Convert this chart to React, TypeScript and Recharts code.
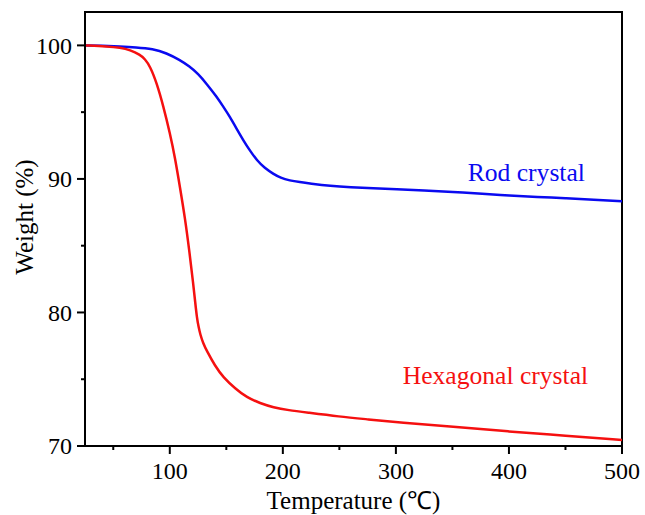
import React from 'react';
import { LineChart, Line, XAxis, YAxis, ReferenceArea, ReferenceDot } from 'recharts';

// ---- data ----
const rodTemps = [25, 40, 56, 70, 85, 97, 109, 117, 125, 133, 141.5, 147, 153.3, 159, 165, 171, 177, 184, 191.6, 198, 206, 215, 224, 242, 260, 280, 300, 325, 350, 377, 400, 425, 450, 475, 500];
const rodWeights = [100, 99.97, 99.92, 99.86, 99.74, 99.43, 98.9, 98.45, 97.88, 97.08, 96.15, 95.45, 94.63, 93.77, 92.9, 92.1, 91.4, 90.8, 90.38, 90.08, 89.88, 89.76, 89.66, 89.48, 89.38, 89.3, 89.23, 89.13, 89.03, 88.88, 88.75, 88.65, 88.55, 88.45, 88.33];

const hexTemps = [25, 45, 56, 65, 73.7, 78, 82.5, 88.4, 94.3, 100.2, 104.6, 109, 113.5, 117.3, 120.8, 122.5, 124, 125.5, 127, 129.5, 132.6, 140, 147.3, 158, 168, 180, 191.6, 205, 221, 250, 275, 304, 350, 400, 450, 500];
const hexWeights = [100, 99.93, 99.83, 99.65, 99.3, 98.98, 98.45, 97.2, 95.45, 93.4, 91.6, 89.38, 87.05, 84.6, 82.1, 80.75, 79.6, 78.9, 78.35, 77.7, 77.14, 76.0, 75.14, 74.3, 73.64, 73.2, 72.89, 72.68, 72.51, 72.2, 72.0, 71.76, 71.45, 71.08, 70.78, 70.45];

const seriesNames = ['Rod crystal', 'Hexagonal crystal'];
const xMajorTicks = [100, 200, 300, 400, 500];
const xMinorTicks = [50, 150, 250, 350, 450];
const yMajorTicks = [70, 80, 90, 100];
const yMinorTicks = [75, 85, 95];
const xDomain = [25, 500];
const yDomain = [70, 102.5];
const xTitle = 'Temperature (℃)';
const yTitle = 'Weight (%)';

// annotation anchors (data units): left edge / baseline of text
const rodLabelAt = { x: 363.5, y: 89.83 };
const hexLabelAt = { x: 306, y: 74.64 };

const rodData = rodTemps.map((t, i) => ({ T: t, W: rodWeights[i] }));
const hexData = hexTemps.map((t, i) => ({ T: t, W: hexWeights[i] }));

const FONT = '"Liberation Serif", "Times New Roman", Times, serif';
const BLUE = '#0a0af0';
const RED = '#f51010';

const XTick = (props: any) => {
  const { x, y, payload } = props;
  const major = xMajorTicks.includes(payload.value);
  return (
    <g>
      <line x1={x} y1={y} x2={x} y2={y + (major ? 8 : 4)} stroke="#000" strokeWidth={2} />
      {major && (
        <text x={x} y={y + 33} textAnchor="middle" fontSize={24} fontFamily={FONT} fill="#000">
          {payload.value}
        </text>
      )}
    </g>
  );
};

const YTick = (props: any) => {
  const { x, y, payload } = props;
  const major = yMajorTicks.includes(payload.value);
  return (
    <g>
      <line x1={x - (major ? 8 : 4)} y1={y} x2={x} y2={y} stroke="#000" strokeWidth={2} />
      {major && (
        <text x={x - 13} y={y} dy="0.34em" textAnchor="end" fontSize={24} fontFamily={FONT} fill="#000">
          {payload.value}
        </text>
      )}
    </g>
  );
};

const XTitle = (props: any) => {
  const vb = props.viewBox || { x: 85, y: 446, width: 537, height: 69 };
  const cx = vb.x + vb.width / 2;
  return (
    <text x={cx} y={vb.y + 63} textAnchor="middle" fontSize={25} fontFamily={FONT} fill="#000">
      {xTitle}
    </text>
  );
};

const YTitle = (props: any) => {
  const vb = props.viewBox || { x: 0, y: 12, width: 85, height: 434 };
  const cx = vb.x + 33;
  const cy = vb.y + vb.height / 2 - 12;
  return (
    <text x={cx} y={cy} transform={`rotate(-90, ${cx}, ${cy})`} textAnchor="middle" fontSize={25} fontFamily={FONT} fill="#000">
      {yTitle}
    </text>
  );
};

const makeAnno = (text: string, color: string) => (props: any) => (
  <text x={props.cx} y={props.cy} textAnchor="start" fontSize={25.6} fontFamily={FONT} fill={color}>
    {text}
  </text>
);

export default function App() {
  return (
    <div style={{ position: 'absolute', left: 0, top: 0, width: 645, height: 515, background: '#fff' }}>
      <LineChart width={645} height={515} margin={{ top: 12, right: 23, bottom: 0, left: 0 }}>
        <XAxis
          type="number"
          dataKey="T"
          domain={xDomain}
          allowDataOverflow
          ticks={[...xMinorTicks, ...xMajorTicks].sort((a, b) => a - b)}
          interval={0}
          tickSize={0}
          tickMargin={0}
          tickLine={false}
          tick={<XTick />}
          axisLine={{ stroke: '#000', strokeWidth: 2 }}
          height={69}
          label={{ content: XTitle }}
        />
        <YAxis
          type="number"
          dataKey="W"
          domain={yDomain}
          allowDataOverflow
          ticks={[...yMinorTicks, ...yMajorTicks].sort((a, b) => a - b)}
          interval={0}
          tickSize={0}
          tickMargin={0}
          tickLine={false}
          tick={<YTick />}
          axisLine={{ stroke: '#000', strokeWidth: 2 }}
          width={85}
          label={{ content: YTitle }}
        />
        <ReferenceArea x1={xDomain[0]} x2={xDomain[1]} y1={yDomain[0]} y2={yDomain[1]} fill="none" stroke="#000" strokeWidth={2} />
        <Line data={rodData} dataKey="W" name={seriesNames[0]} type="basis" stroke={BLUE} strokeWidth={2.5} dot={false} isAnimationActive={false} />
        <Line data={hexData} dataKey="W" name={seriesNames[1]} type="basis" stroke={RED} strokeWidth={2.5} dot={false} isAnimationActive={false} />
        <ReferenceDot x={rodLabelAt.x} y={rodLabelAt.y} r={1} shape={makeAnno(seriesNames[0], BLUE)} />
        <ReferenceDot x={hexLabelAt.x} y={hexLabelAt.y} r={1} shape={makeAnno(seriesNames[1], RED)} />
      </LineChart>
    </div>
  );
}
